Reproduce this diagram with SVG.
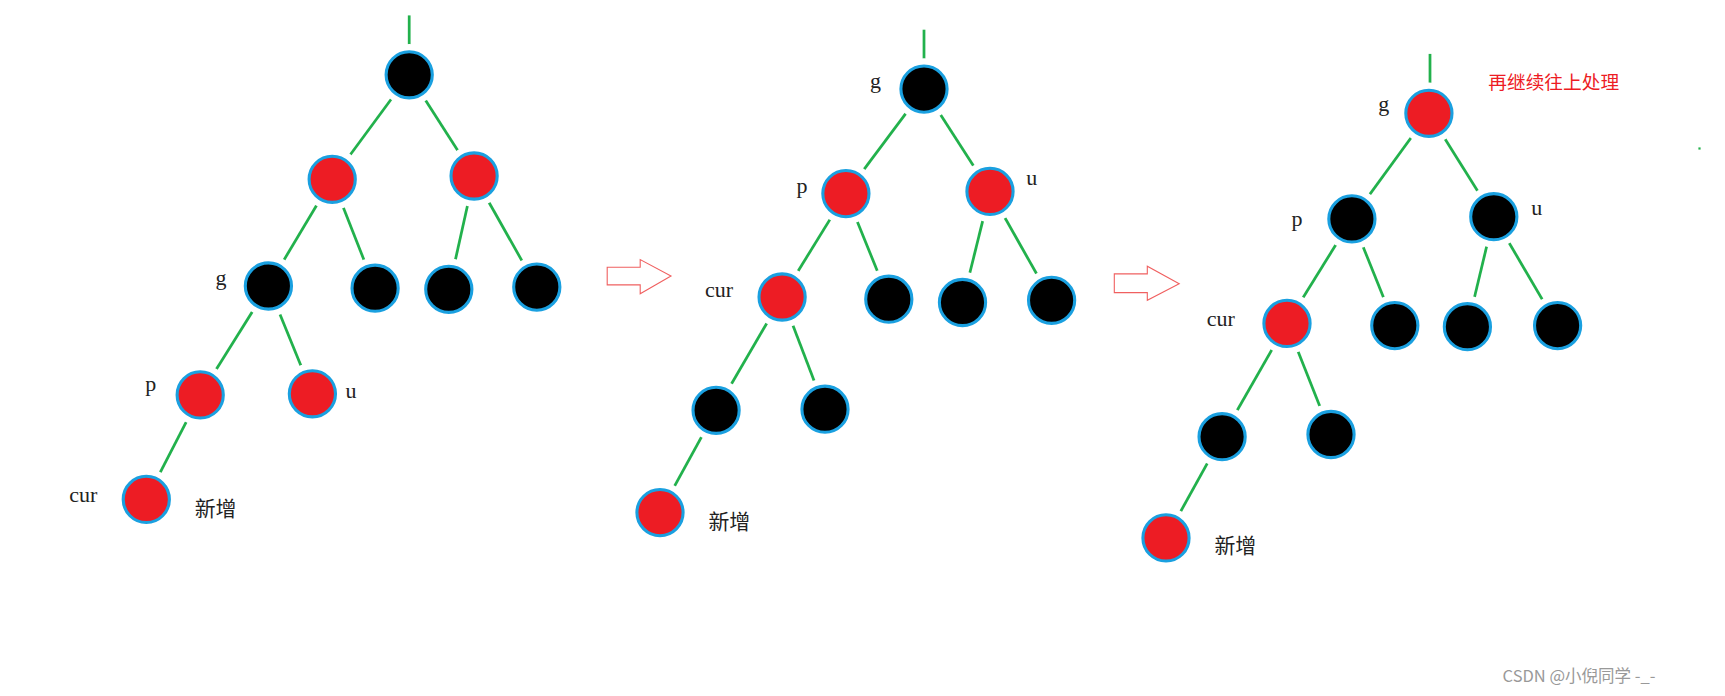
<svg xmlns="http://www.w3.org/2000/svg" width="1725" height="696" viewBox="0 0 1725 696">
<style>
.e{stroke:#22b14c;stroke-width:2.5}
.h{fill:#fff}
.r{fill:#ed1c24;stroke:#1aa0e0;stroke-width:2.8}
.b{fill:#000;stroke:#1aa0e0;stroke-width:2.8}
.l{font-family:"Liberation Serif",serif;font-size:20px;fill:#222}
.c{font-family:"Noto Sans CJK SC",sans-serif;font-size:19px;fill:#222}
.a{fill:#fff;stroke:#f06060;stroke-width:1}
</style>
<defs>
<g id="halo"><circle r="28" class="h"/></g>
</defs>
<rect width="1725" height="696" fill="#fff"/>
<g transform="scale(1.1)">
<g id="connectors">
<line class="e" x1="372" y1="14" x2="372" y2="45"/>
<line class="e" x1="372" y1="68" x2="302" y2="163"/><line class="e" x1="372" y1="68" x2="431" y2="160"/>
<line class="e" x1="302" y1="163" x2="244" y2="260"/><line class="e" x1="302" y1="163" x2="341" y2="262"/>
<line class="e" x1="431" y1="160" x2="408" y2="263"/><line class="e" x1="431" y1="160" x2="488" y2="261"/>
<line class="e" x1="244" y1="260" x2="182" y2="359"/><line class="e" x1="244" y1="260" x2="284" y2="358"/>
<line class="e" x1="182" y1="359" x2="133" y2="454"/>
<line class="e" x1="840" y1="27" x2="840" y2="55"/>
<line class="e" x1="840" y1="81" x2="769" y2="176"/><line class="e" x1="840" y1="81" x2="900" y2="174"/>
<line class="e" x1="769" y1="176" x2="711" y2="270"/><line class="e" x1="769" y1="176" x2="808" y2="272"/>
<line class="e" x1="900" y1="174" x2="875" y2="275"/><line class="e" x1="900" y1="174" x2="956" y2="273"/>
<line class="e" x1="711" y1="270" x2="651" y2="373"/><line class="e" x1="711" y1="270" x2="750" y2="372"/>
<line class="e" x1="651" y1="373" x2="600" y2="466"/>
<line class="e" x1="1300" y1="49" x2="1300" y2="77"/>
<line class="e" x1="1299" y1="103" x2="1229" y2="199"/><line class="e" x1="1299" y1="103" x2="1358" y2="197"/>
<line class="e" x1="1229" y1="199" x2="1170" y2="294"/><line class="e" x1="1229" y1="199" x2="1268" y2="296"/>
<line class="e" x1="1358" y1="197" x2="1334" y2="297"/><line class="e" x1="1358" y1="197" x2="1416" y2="296"/>
<line class="e" x1="1170" y1="294" x2="1111" y2="397"/><line class="e" x1="1170" y1="294" x2="1210" y2="395"/>
<line class="e" x1="1111" y1="397" x2="1060" y2="489"/>
</g>
<g id="tree1">
<use href="#halo" x="372" y="68"/><circle class="b" cx="372" cy="68" r="21"/>
<use href="#halo" x="302" y="163"/><circle class="r" cx="302" cy="163" r="21"/>
<use href="#halo" x="431" y="160"/><circle class="r" cx="431" cy="160" r="21"/>
<use href="#halo" x="244" y="260"/><circle class="b" cx="244" cy="260" r="21"/>
<use href="#halo" x="341" y="262"/><circle class="b" cx="341" cy="262" r="21"/>
<use href="#halo" x="408" y="263"/><circle class="b" cx="408" cy="263" r="21"/>
<use href="#halo" x="488" y="261"/><circle class="b" cx="488" cy="261" r="21"/>
<use href="#halo" x="182" y="359"/><circle class="r" cx="182" cy="359" r="21"/>
<use href="#halo" x="284" y="358"/><circle class="r" cx="284" cy="358" r="21"/>
<use href="#halo" x="133" y="454"/><circle class="r" cx="133" cy="454" r="21"/>
<text class="l" x="196" y="259">g</text><text class="l" x="132" y="355">p</text><text class="l" x="314" y="362">u</text><text class="l" x="63" y="456">cur</text><text class="c" x="177" y="469">新增</text>
</g>
<g id="tree2">
<use href="#halo" x="840" y="81"/><circle class="b" cx="840" cy="81" r="21"/>
<use href="#halo" x="769" y="176"/><circle class="r" cx="769" cy="176" r="21"/>
<use href="#halo" x="900" y="174"/><circle class="r" cx="900" cy="174" r="21"/>
<use href="#halo" x="711" y="270"/><circle class="r" cx="711" cy="270" r="21"/>
<use href="#halo" x="808" y="272"/><circle class="b" cx="808" cy="272" r="21"/>
<use href="#halo" x="875" y="275"/><circle class="b" cx="875" cy="275" r="21"/>
<use href="#halo" x="956" y="273"/><circle class="b" cx="956" cy="273" r="21"/>
<use href="#halo" x="651" y="373"/><circle class="b" cx="651" cy="373" r="21"/>
<use href="#halo" x="750" y="372"/><circle class="b" cx="750" cy="372" r="21"/>
<use href="#halo" x="600" y="466"/><circle class="r" cx="600" cy="466" r="21"/>
<text class="l" x="791" y="80">g</text><text class="l" x="724" y="175">p</text><text class="l" x="933" y="168">u</text><text class="l" x="641" y="270">cur</text><text class="c" x="644" y="481">新增</text>
</g>
<g id="tree3">
<use href="#halo" x="1299" y="103"/><circle class="r" cx="1299" cy="103" r="21"/>
<use href="#halo" x="1229" y="199"/><circle class="b" cx="1229" cy="199" r="21"/>
<use href="#halo" x="1358" y="197"/><circle class="b" cx="1358" cy="197" r="21"/>
<use href="#halo" x="1170" y="294"/><circle class="r" cx="1170" cy="294" r="21"/>
<use href="#halo" x="1268" y="296"/><circle class="b" cx="1268" cy="296" r="21"/>
<use href="#halo" x="1334" y="297"/><circle class="b" cx="1334" cy="297" r="21"/>
<use href="#halo" x="1416" y="296"/><circle class="b" cx="1416" cy="296" r="21"/>
<use href="#halo" x="1111" y="397"/><circle class="b" cx="1111" cy="397" r="21"/>
<use href="#halo" x="1210" y="395"/><circle class="b" cx="1210" cy="395" r="21"/>
<use href="#halo" x="1060" y="489"/><circle class="r" cx="1060" cy="489" r="21"/>
<text class="l" x="1253" y="101">g</text><text class="l" x="1174" y="205">p</text><text class="l" x="1392" y="195">u</text><text class="l" x="1097" y="296">cur</text><text class="c" x="1104" y="503">新增</text>
<text x="1353" y="81" style="font-family:'Noto Sans CJK SC',sans-serif;font-size:17px;fill:#ed1c24">再继续往上处理</text>
<rect x="1544" y="134" width="2" height="2" fill="#22b14c"/>
</g>
<g id="arrows">
<path class="a" d="M552,243H582V236L610,251L582,267V259H552Z"/>
<path class="a" d="M1013,249H1043V242L1072,258L1043,273V266H1013Z"/>
</g>
<text x="1366" y="620" style="font-family:'Noto Sans CJK SC',sans-serif;font-size:15px;fill:#999">CSDN @小倪同学 -_-</text>
</g>
</svg>
